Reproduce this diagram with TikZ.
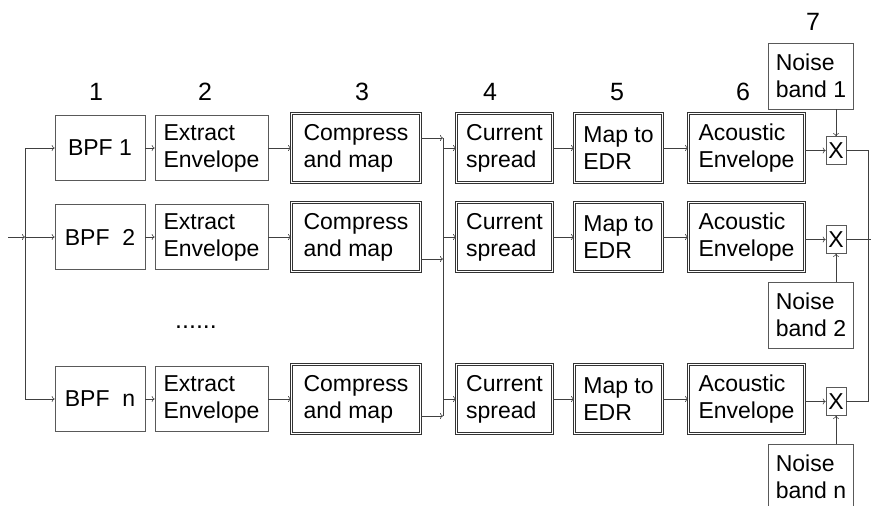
\documentclass[tikz,border=0pt]{standalone}
\usepackage{fontspec}
\setmainfont{Liberation Sans}
\usetikzlibrary{arrows.meta}
\tikzset{
  blk/.style={draw=black!65, line width=0.6pt, fill=white, align=left, inner sep=2pt,
    font=\fontsize{23}{27}\selectfont},
  dblk/.style={blk, draw=black!80, double=white, double distance=1.4pt, line width=0.7pt,
    minimum height=69pt},
  mult/.style={draw=black!65, line width=0.6pt, fill=white, inner sep=0pt,
    minimum width=20pt, minimum height=28pt, font=\fontsize{23}{27}\selectfont},
  num/.style={font=\fontsize{25}{30}\selectfont},
  sig/.style={draw=black!75, line width=0.6pt, -{To[length=3pt,width=6pt]}},
  wire/.style={draw=black!75, line width=0.6pt},
}
\begin{document}
\begin{tikzpicture}[x=1pt, y=-1pt]
  \useasboundingbox (0,0) rectangle (871,506);
  \clip (0,0) rectangle (871,506);
  % stage numbers
  \node[num] (n1) at (96,92) {1};
  \node[num] (n2) at (205,92) {2};
  \node[num] (n3) at (362,92) {3};
  \node[num] (n4) at (490,92) {4};
  \node[num] (n5) at (617,92) {5};
  \node[num] (n6) at (743,92) {6};
  \node[num] (n7) at (813,22) {7};
  % junctions
  \coordinate (in) at (8,237);
  \coordinate (split) at (25,237);
  \coordinate (bus) at (443,148);
  \coordinate (sum) at (868,151);
  \coordinate (out) at (874,240);
  % channels
  \foreach \r/\y/\k/\o in {1/148/1/10, 2/237/{\ 2}/-22, n/399/{\ n}/-17} {
    \node[blk, minimum width=90pt, minimum height=65pt] (bpf\r) at (100,\y) {BPF \k};
    \node[blk, minimum width=113pt, minimum height=65pt] (ext\r) at (211.5,\y) {Extract\\Envelope};
    \node[dblk, minimum width=129pt] (cmp\r) at (356,\y) {Compress\\and map};
    \node[dblk, minimum width=96pt] (cur\r) at (504.5,\y) {Current\\spread};
    \node[dblk, minimum width=88pt] (map\r) at (618.5,\y) {Map to\\EDR};
    \node[dblk, minimum width=116pt] (ac\r) at (746.5,\y) {Acoustic\\Envelope};
    \node[mult] (x\r) at (836,\y+2.5) {X};
    \path ([yshift=\o pt]cmp\r.east) coordinate (co\r);
    \draw[sig] (bpf\r.west -| split) -- (bpf\r.west);
    \draw[sig] (bpf\r) -- (ext\r);
    \draw[sig] (ext\r) -- (cmp\r);
    \draw[sig] (co\r) -- (co\r -| bus);
    \draw[sig] (cur\r.west -| bus) -- (cur\r.west);
    \draw[sig] (cur\r) -- (map\r);
    \draw[sig] (map\r) -- (ac\r);
    \draw[sig] (ac\r.east |- x\r) -- (x\r.west);
  }
  \node[font=\fontsize{25}{30}\selectfont] (dots) at (196,327) {......};
  % noise carriers
  \node[blk, minimum width=85pt, minimum height=66pt] (nb1) at (811,76) {Noise\\band 1};
  \node[blk, minimum width=85pt, minimum height=66pt] (nb2) at (811,315) {Noise\\band 2};
  \node[blk, minimum width=85pt, minimum height=66pt] (nbn) at (811,477) {Noise\\band n};
  \draw[sig] (x1.north |- nb1.south) -- (x1.north);
  \draw[sig] (x2.south |- nb2.north) -- (x2.south);
  \draw[sig] (xn.south |- nbn.north) -- (xn.south);
  % input split and buses
  \draw[sig] (in) -- (split);
  \draw[wire] (bpf1.west -| split) -- (bpfn.west -| split);
  \draw[wire] (co1 -| bus) -- (con -| bus);
  \draw[wire] (x1.east) -- (x1.east -| sum) -- (xn.east -| sum) -- (xn.east);
  \draw[wire] (x2.east) -- (x2.east -| out);
\end{tikzpicture}
\end{document}
